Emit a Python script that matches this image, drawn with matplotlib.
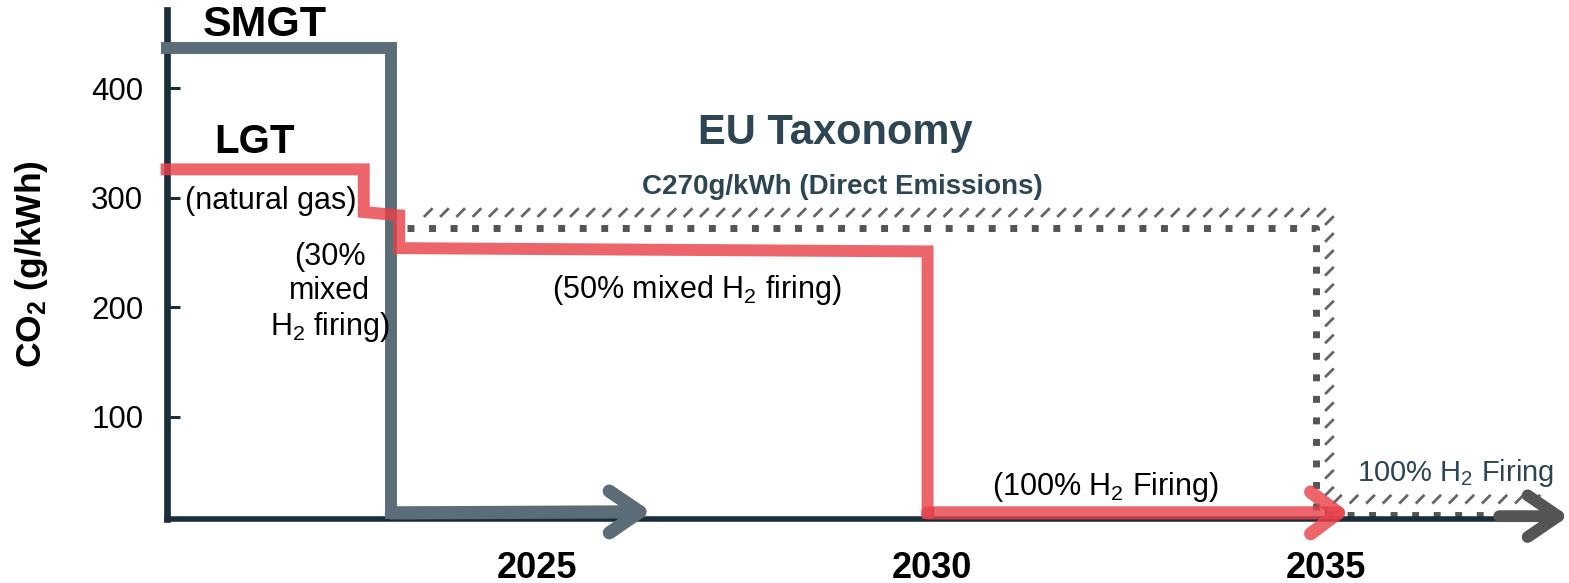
import matplotlib
matplotlib.use("Agg")
import matplotlib.pyplot as plt
from matplotlib import patheffects
from matplotlib.transforms import offset_copy

plt.rcParams['font.family'] = ['Liberation Sans', 'DejaVu Sans']
plt.rcParams['mathtext.fontset'] = 'custom'
plt.rcParams['mathtext.rm'] = 'Liberation Sans'
plt.rcParams['mathtext.it'] = 'Liberation Sans:italic'
plt.rcParams['mathtext.bf'] = 'Liberation Sans:bold'

# data (years, g/kWh)
smgt_years = [2020.3, 2023.15, 2023.15, 2026.45]
smgt_co2 = [437, 437, 12, 13]

lgt_years = [2020.3, 2022.8, 2022.8, 2023.25, 2023.25, 2029.95, 2029.95, 2035.3]
lgt_co2 = [326, 326, 287, 284, 254, 251, 12, 12]

tax_years = [2023.35, 2034.88, 2034.88, 2037.6]
tax_co2 = [272, 272, 10, 10]

future_years = [2037.2, 2038.08]
future_co2 = [9, 9]

year_ticks = [2025, 2030, 2035]
co2_ticks = [100, 200, 300, 400]

grey = '#5b6e78'
red = '#e8434b'
dark = '#1b2d38'
slate = '#2d4654'
dots = '#555555'

fig = plt.figure(figsize=(15.69, 5.83), dpi=100)
ax = fig.add_axes([167 / 1569, 64 / 583, (1545 - 167) / 1569, 509 / 583])
ax.set_xlim(2020.305, 2037.78)
ax.set_ylim(6.4, 471.7)

# EU taxonomy limit: dotted squares + hatched edge
ax.plot(tax_years, tax_co2, color=dots, lw=5.0, linestyle=(0, (1, 2.1)),
        dash_capstyle='butt', clip_on=False, zorder=2)
hatch_tr = offset_copy(ax.transData, fig=fig, x=7, y=9, units='points')
for i, ang in zip(range(3), [45, 135, 45]):
    ax.plot(tax_years[i:i + 2], tax_co2[i:i + 2], lw=0, transform=hatch_tr, clip_on=False,
            path_effects=[patheffects.TickedStroke(spacing=11.5, angle=ang, length=0.6,
                                                   linewidth=2.0, foreground='#666666')])

# SMGT
ax.plot(smgt_years[:-1], smgt_co2[:-1], color=grey, lw=8.6, solid_joinstyle='miter',
        clip_on=False, zorder=3)
ax.annotate('', xy=(smgt_years[-1], smgt_co2[-1]), xytext=(smgt_years[-2], smgt_co2[-2]),
            annotation_clip=False, zorder=3,
            arrowprops=dict(arrowstyle='->,head_length=2.2,head_width=1.5', mutation_scale=10,
                            lw=9.5, color=grey, shrinkA=0, shrinkB=0,
                            capstyle='round', joinstyle='round'))

# LGT
ax.plot(lgt_years[:-1], lgt_co2[:-1], color=red, lw=8.6, alpha=0.82,
        solid_joinstyle='miter', clip_on=False, zorder=4)
ax.annotate('', xy=(lgt_years[-1], lgt_co2[-1]), xytext=(lgt_years[-2], lgt_co2[-2]),
            annotation_clip=False, zorder=4,
            arrowprops=dict(arrowstyle='->,head_length=2.0,head_width=1.5', mutation_scale=10,
                            lw=9.5, color=red, alpha=0.82, shrinkA=0, shrinkB=0,
                            capstyle='round', joinstyle='round'))

# arrow beyond 2035
ax.annotate('', xy=(future_years[1], future_co2[1]), xytext=(future_years[0], future_co2[0]),
            annotation_clip=False, zorder=4,
            arrowprops=dict(arrowstyle='->,head_length=2.2,head_width=1.5', mutation_scale=10,
                            lw=8.5, color=dots, shrinkA=0, shrinkB=0,
                            capstyle='round', joinstyle='round'))

# axes styling
for s in ['top', 'right']:
    ax.spines[s].set_visible(False)
ax.spines['left'].set_linewidth(4.8)
ax.spines['bottom'].set_linewidth(4.0)
ax.spines['left'].set_color(dark)
ax.spines['bottom'].set_color(dark)
ax.set_xticks(year_ticks)
ax.set_yticks(co2_ticks)
ax.tick_params(axis='both', direction='in', length=9, width=2.2, color=dark)
ax.tick_params(axis='y', labelsize=22.5, pad=17)
ax.tick_params(axis='x', labelsize=26, pad=23)
for lab in ax.get_xticklabels():
    lab.set_fontweight('bold')
ax.set_ylabel(r'CO$_\mathbf{2}$ (g/kWh)', fontsize=25.5, fontweight='bold')
ax.yaxis.set_label_coords(-0.085, 0.5)

# annotations
ax.text(2021.55, 458, 'SMGT', fontsize=31, fontweight='bold', ha='center', va='center')
ax.text(2021.42, 351, 'LGT', fontsize=29, fontweight='bold', ha='center', va='center')
ax.text(2021.62, 297, '(natural gas)', fontsize=22, ha='center', va='center')
ax.text(2022.37, 213, '(30%\nmixed\nH$_2$ firing)', fontsize=22, ha='center', va='center',
        linespacing=1.15)
ax.text(2028.78, 359, 'EU Taxonomy', fontsize=30, fontweight='bold', color=slate,
        ha='center', va='center')
ax.text(2028.87, 310, 'C270g/kWh (Direct Emissions)', fontsize=20, fontweight='bold',
        color=slate, ha='center', va='center')
ax.text(2027.02, 216, '(50% mixed H$_2$ firing)', fontsize=22, ha='center', va='center')
ax.text(2032.21, 36, '(100% H$_2$ Firing)', fontsize=22, ha='center', va='center')
ax.text(2036.65, 48, '100% H$_2$ Firing', fontsize=21, color=slate, ha='center', va='center',
        clip_on=False)

fig.savefig('out.png', dpi=100)
